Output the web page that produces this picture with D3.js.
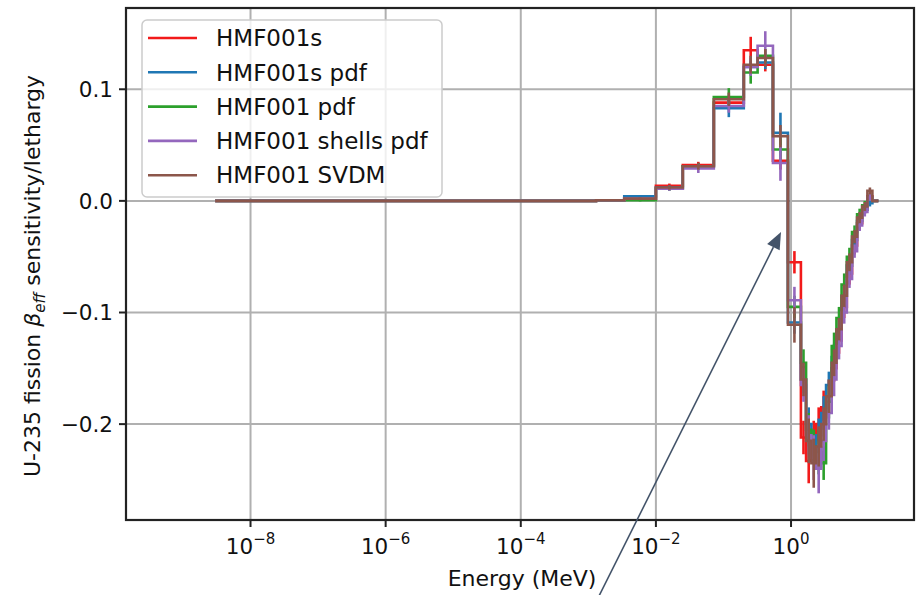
<!DOCTYPE html>
<html>
<head>
<meta charset="utf-8">
<script src="https://cdnjs.cloudflare.com/ajax/libs/d3/7.8.5/d3.min.js"></script>
<style>
body { margin: 0; background: #fff; }
text { font-family: "DejaVu Sans", sans-serif; fill: #111; }
</style>
</head>
<body>
<div id="chart-area"></div>
<script>
// energy group boundaries (MeV)
var edges = [3e-9, 1.3e-3, 3.4e-3, 0.01, 0.025, 0.072, 0.2, 0.32, 0.54, 0.9, 1.4,
  1.67, 2.0, 2.35, 2.8, 3.3, 4.0, 4.7, 5.6, 6.7, 8.0, 9.5, 11.3, 13.5, 16.0, 19.6];

var seriesNames = ["HMF001s", "HMF001s pdf", "HMF001 pdf", "HMF001 shells pdf", "HMF001 SVDM"];
var seriesColors = ["#f21a1a", "#1f77b4", "#2ca02c", "#9467bd", "#8c564b"];

var hmf001s = [0, 0.0005, 0.002, 0.0135, 0.032, 0.088, 0.135, 0.122, 0.036, -0.055,
  -0.212, -0.233, -0.215, -0.2, -0.185, -0.175, -0.15, -0.125, -0.095, -0.065, -0.04, -0.02, -0.008, 0.004, 0.0];
var hmf001sPdf = [0, 0.0005, 0.004, 0.012, 0.031, 0.083, 0.12, 0.124, 0.061, -0.109,
  -0.16, -0.2, -0.22, -0.21, -0.19, -0.165, -0.14, -0.115, -0.085, -0.058, -0.035, -0.018, -0.008, -0.002, 0.0];
var hmf001Pdf = [0, 0.0005, 0.0005, 0.011, 0.031, 0.093, 0.115, 0.13, 0.046, -0.095,
  -0.145, -0.205, -0.22, -0.225, -0.235, -0.18, -0.13, -0.105, -0.075, -0.05, -0.028, -0.012, -0.004, 0.003, 0.0];
var hmf001ShellsPdf = [0, 0.0005, 0.002, 0.011, 0.029, 0.085, 0.12, 0.139, 0.034, -0.089,
  -0.165, -0.21, -0.23, -0.24, -0.215, -0.19, -0.16, -0.13, -0.1, -0.07, -0.045, -0.022, -0.01, 0.003, 0.0];
var hmf001Svdm = [0, 0.0005, 0.002, 0.012, 0.031, 0.091, 0.122, 0.128, 0.058, -0.111,
  -0.16, -0.215, -0.235, -0.22, -0.2, -0.175, -0.145, -0.115, -0.085, -0.055, -0.032, -0.015, -0.005, 0.009, 0.0];

// one sigma uncertainties
var errS = [0, 0, 0.001, 0.002, 0.003, 0.006, 0.012, 0.006, 0.008, 0.01,
  0.015, 0.02, 0.018, 0.015, 0.015, 0.015, 0.012, 0.012, 0.01, 0.01, 0.008, 0.006, 0.004, 0.003, 0];
var errSPdf = [0, 0, 0.001, 0.002, 0.003, 0.008, 0.006, 0.006, 0.018, 0.01,
  0.012, 0.015, 0.015, 0.015, 0.015, 0.012, 0.012, 0.01, 0.01, 0.008, 0.006, 0.006, 0.004, 0.003, 0];
var errPdf = [0, 0, 0.001, 0.002, 0.003, 0.008, 0.01, 0.006, 0.01, 0.01,
  0.012, 0.015, 0.015, 0.02, 0.015, 0.015, 0.012, 0.01, 0.01, 0.008, 0.006, 0.005, 0.004, 0.003, 0];
var errShells = [0, 0, 0.001, 0.002, 0.004, 0.006, 0.008, 0.013, 0.016, 0.012,
  0.015, 0.018, 0.02, 0.022, 0.018, 0.015, 0.015, 0.012, 0.01, 0.008, 0.006, 0.005, 0.004, 0.003, 0];
var errSvdm = [0, 0, 0.001, 0.002, 0.003, 0.006, 0.008, 0.008, 0.01, 0.016,
  0.015, 0.02, 0.022, 0.018, 0.015, 0.015, 0.012, 0.01, 0.01, 0.008, 0.006, 0.005, 0.004, 0.003, 0];

var xTicks = [1e-8, 1e-6, 1e-4, 1e-2, 1];
var xTickExp = ["\u22128", "\u22126", "\u22124", "\u22122", "0"];
var yTicks = [-0.2, -0.1, 0.0, 0.1];
var yTickLabels = ["\u22120.2", "\u22120.1", "0.0", "0.1"];

var allValues = [hmf001s, hmf001sPdf, hmf001Pdf, hmf001ShellsPdf, hmf001Svdm];
var allErrors = [errS, errSPdf, errPdf, errShells, errSvdm];

var pLeft = 126, pRight = 914, pTop = 8, pBottom = 520;

var svg = d3.select("#chart-area").append("svg")
  .attr("width", 918)
  .attr("height", 595);

var x = d3.scaleLog()
  .domain([Math.pow(10, -9.843), Math.pow(10, 1.82)])
  .range([pLeft, pRight]);

var y = d3.scaleLinear()
  .domain([-0.2859, 0.1728])
  .range([pBottom, pTop]);

// grid
svg.append("g").selectAll("line").data(xTicks).enter().append("line")
  .attr("x1", function(d) { return x(d); })
  .attr("x2", function(d) { return x(d); })
  .attr("y1", pTop).attr("y2", pBottom)
  .attr("stroke", "#b0b0b0").attr("stroke-width", 2);

svg.append("g").selectAll("line").data(yTicks).enter().append("line")
  .attr("x1", pLeft).attr("x2", pRight)
  .attr("y1", function(d) { return y(d); })
  .attr("y2", function(d) { return y(d); })
  .attr("stroke", "#b0b0b0").attr("stroke-width", 2);

svg.append("clipPath").attr("id", "clip")
  .append("rect")
  .attr("x", pLeft).attr("y", pTop)
  .attr("width", pRight - pLeft).attr("height", pBottom - pTop);

var plot = svg.append("g").attr("clip-path", "url(#clip)");

var stepLine = d3.line()
  .x(function(d) { return x(d[0]); })
  .y(function(d) { return y(d[1]); })
  .curve(d3.curveStepAfter);

allValues.forEach(function(vals, k) {
  var pts = vals.map(function(v, i) { return [edges[i], v]; });
  pts.push([edges[vals.length], vals[vals.length - 1]]);

  plot.append("path")
    .attr("d", stepLine(pts))
    .attr("fill", "none")
    .attr("stroke", seriesColors[k])
    .attr("stroke-width", 2.6);

  // error bars at the log-centre of each group
  var errs = allErrors[k];
  var bars = vals.map(function(v, i) {
    return { e: Math.sqrt(edges[i] * edges[i + 1]), v: v, s: errs[i] };
  }).filter(function(b) { return b.s > 0; });

  plot.append("g").selectAll("line").data(bars).enter().append("line")
    .attr("x1", function(d) { return x(d.e); })
    .attr("x2", function(d) { return x(d.e); })
    .attr("y1", function(d) { return y(d.v - d.s); })
    .attr("y2", function(d) { return y(d.v + d.s); })
    .attr("stroke", seriesColors[k])
    .attr("stroke-width", 2.6);
});

// frame
svg.append("rect")
  .attr("x", pLeft).attr("y", pTop)
  .attr("width", pRight - pLeft).attr("height", pBottom - pTop)
  .attr("fill", "none")
  .attr("stroke", "#222")
  .attr("stroke-width", 2.2);

// x ticks
var xt = svg.append("g").selectAll("g").data(xTicks).enter().append("g")
  .attr("transform", function(d) { return "translate(" + x(d) + "," + pBottom + ")"; });
xt.append("line").attr("y1", 0).attr("y2", 7).attr("stroke", "#222").attr("stroke-width", 2);
var xtl = xt.append("text")
  .attr("y", 34)
  .attr("text-anchor", "middle")
  .style("font-size", "21.5px");
xtl.append("tspan").text("10");
xtl.append("tspan")
  .attr("dy", -10)
  .style("font-size", "15px")
  .text(function(d, i) { return xTickExp[i]; });

// y ticks
var yt = svg.append("g").selectAll("g").data(yTicks).enter().append("g")
  .attr("transform", function(d) { return "translate(" + pLeft + "," + y(d) + ")"; });
yt.append("line").attr("x1", 0).attr("x2", -7).attr("stroke", "#222").attr("stroke-width", 2);
yt.append("text")
  .attr("x", -13)
  .attr("dy", "0.36em")
  .attr("text-anchor", "end")
  .style("font-size", "21.5px")
  .text(function(d, i) { return yTickLabels[i]; });

// axis labels
svg.append("text")
  .attr("x", (pLeft + pRight) / 2 + 2)
  .attr("y", 586)
  .attr("text-anchor", "middle")
  .style("font-size", "22px")
  .text("Energy (MeV)");

var yl = svg.append("text")
  .attr("transform", "translate(40," + ((pTop + pBottom) / 2 + 12) + ") rotate(-90)")
  .attr("text-anchor", "middle")
  .style("font-size", "22px");
yl.append("tspan").text("U-235 fission ");
yl.append("tspan").style("font-style", "italic").text("\u03b2");
yl.append("tspan").style("font-style", "italic").style("font-size", "15px").attr("dy", 5).text("eff");
yl.append("tspan").attr("dy", -5).text(" sensitivity/lethargy");

// legend
var legend = svg.append("g");
legend.append("rect")
  .attr("x", 142).attr("y", 20)
  .attr("width", 300).attr("height", 177)
  .attr("rx", 5)
  .attr("fill", "white").attr("fill-opacity", 0.8)
  .attr("stroke", "#cccccc").attr("stroke-width", 1.5);

var rows = legend.selectAll("g").data(seriesNames).enter().append("g")
  .attr("transform", function(d, i) { return "translate(0," + (38 + i * 34.3) + ")"; });
rows.append("line")
  .attr("x1", 148).attr("x2", 197)
  .attr("stroke", function(d, i) { return seriesColors[i]; })
  .attr("stroke-width", 2.6);
rows.append("text")
  .attr("x", 216)
  .attr("dy", "0.36em")
  .style("font-size", "23px")
  .text(function(d) { return d; });

// annotation arrow
var ax0 = 597, ay0 = 600, ax1 = 781, ay1 = 232;
var ang = Math.atan2(ay1 - ay0, ax1 - ax0);
var hl = 17, hw = 7;
var bx = ax1 - hl * Math.cos(ang), by = ay1 - hl * Math.sin(ang);
svg.append("line")
  .attr("x1", ax0).attr("y1", ay0)
  .attr("x2", bx).attr("y2", by)
  .attr("stroke", "#44546a")
  .attr("stroke-width", 1.6);
svg.append("polygon")
  .attr("points", [
    [ax1, ay1],
    [bx + hw * Math.sin(ang), by - hw * Math.cos(ang)],
    [bx - hw * Math.sin(ang), by + hw * Math.cos(ang)]
  ].map(function(p) { return p.join(","); }).join(" "))
  .attr("fill", "#44546a");
</script>
</body>
</html>
